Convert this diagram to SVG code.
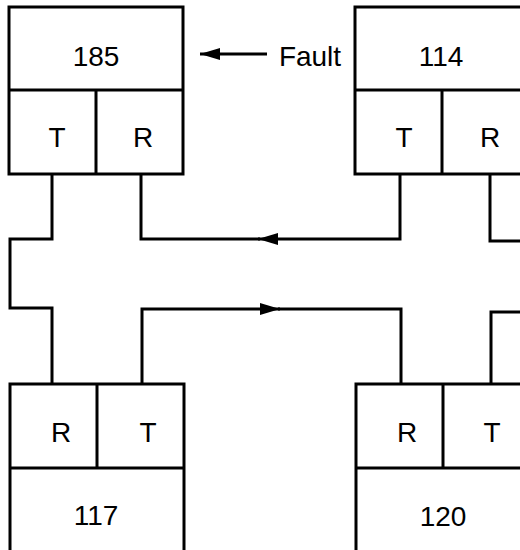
<svg xmlns="http://www.w3.org/2000/svg" width="520" height="550" viewBox="0 0 520 550">
<style>
.box{fill:#fff;stroke:#000;stroke-width:3}
.ln{fill:none;stroke:#000;stroke-width:3}
.t{font-family:"Liberation Sans",Arial,sans-serif;font-size:28px;fill:#000;text-anchor:middle}
</style>
<defs>
<marker id="ah" markerUnits="userSpaceOnUse" markerWidth="20" markerHeight="12" refX="20" refY="6" orient="auto">
<path d="M0,0 L20,6 L0,12 Z" fill="#000"/>
</marker>
</defs>
<rect width="520" height="550" fill="#fff"/>
<g id="connectors">
<path class="ln" d="M400,174 V239 H258" marker-end="url(#ah)"/>
<path class="ln" d="M260,239 H141 V174"/>
<path class="ln" d="M142,384 V309 H280" marker-end="url(#ah)"/>
<path class="ln" d="M278,309 H401 V384"/>
<path class="ln" d="M52,174 V239 H10 V308 H52 V384"/>
<path class="ln" d="M490,174 V241 H525"/>
<path class="ln" d="M491,384 V312 H525"/>
<path class="ln" d="M267,54 H200" marker-end="url(#ah)"/>
</g>
<g id="node-185">
<rect class="box" x="9" y="7" width="174" height="167"/>
<path class="ln" d="M9,90 H183 M96,90 V174"/>
<text class="t" x="96" y="66">185</text>
<text class="t" x="57" y="147">T</text>
<text class="t" x="143" y="147">R</text>
</g>
<g id="node-114">
<rect class="box" x="355" y="7" width="174" height="167"/>
<path class="ln" d="M355,90 H529 M442,90 V174"/>
<text class="t" x="441" y="66">114</text>
<text class="t" x="404" y="147">T</text>
<text class="t" x="490" y="147">R</text>
</g>
<g id="node-117">
<rect class="box" x="10" y="384" width="174" height="200"/>
<path class="ln" d="M10,468 H184 M97,384 V468"/>
<text class="t" x="61" y="442">R</text>
<text class="t" x="148" y="442">T</text>
<text class="t" x="96" y="525">117</text>
</g>
<g id="node-120">
<rect class="box" x="356" y="384" width="174" height="200"/>
<path class="ln" d="M356,468 H530 M443,384 V468"/>
<text class="t" x="407" y="442">R</text>
<text class="t" x="492" y="442">T</text>
<text class="t" x="443" y="526">120</text>
</g>
<text class="t" x="310" y="66">Fault</text>
</svg>
